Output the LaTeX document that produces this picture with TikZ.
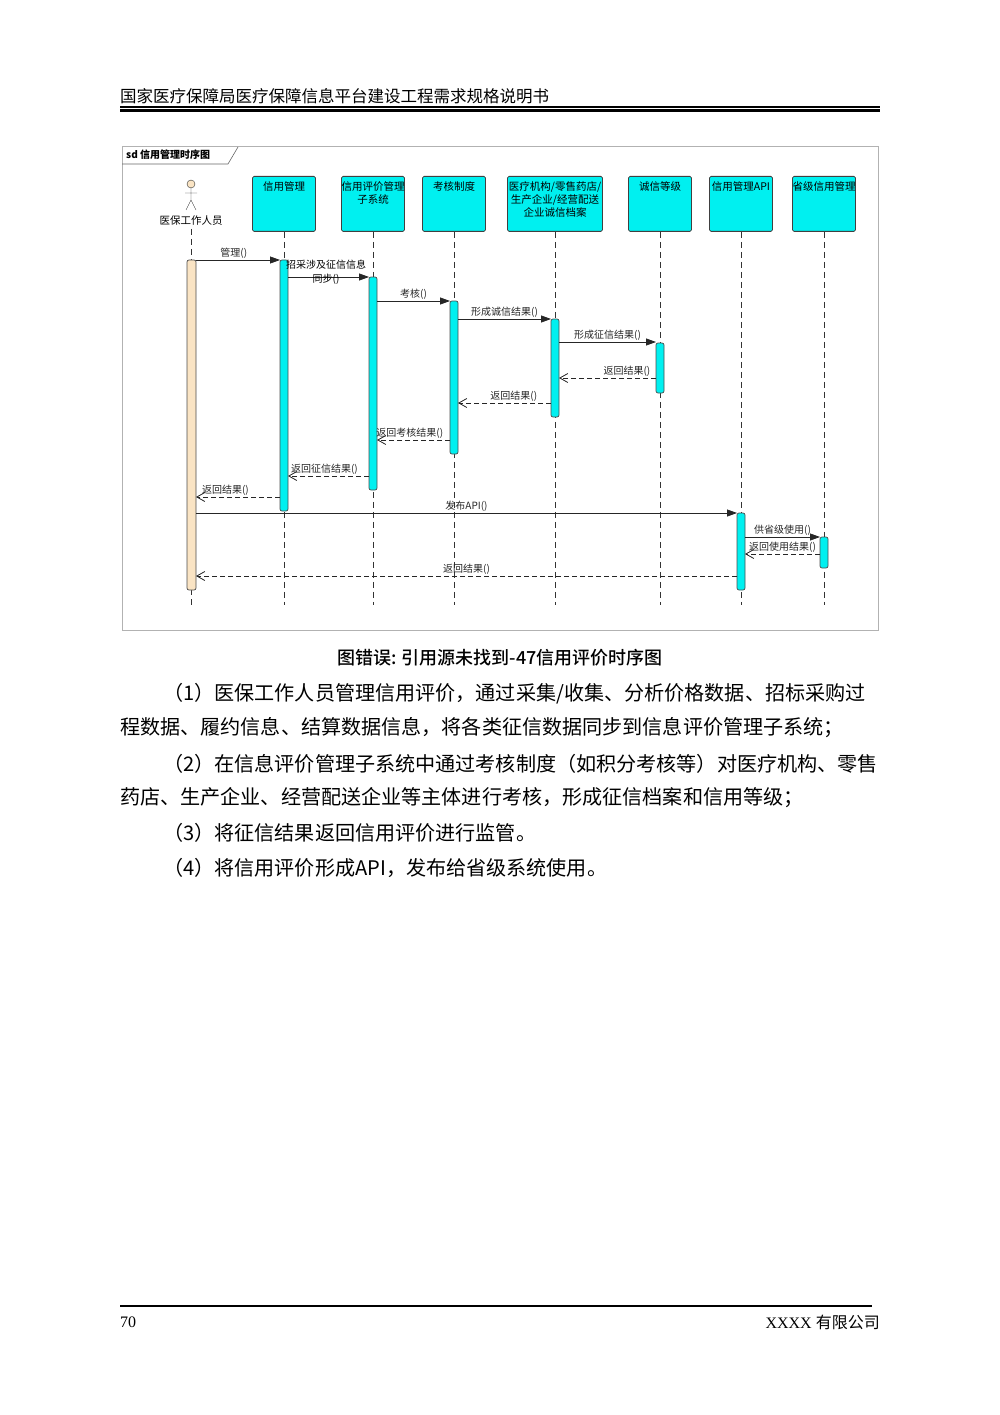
\documentclass[tikz,border=0pt]{standalone}
\usepackage{fontspec}
\setmainfont{Liberation Serif}
\newfontfamily\cjk{Noto Sans CJK SC}
\newfontfamily\cjkm{Noto Sans CJK SC Medium}
\usetikzlibrary{arrows.meta,calc}
\definecolor{aqua}{RGB}{0,240,240}
\definecolor{skin}{RGB}{250,228,196}
\tikzset{
 obj/.style={draw=black!75,fill=aqua,minimum width=63pt,minimum height=55pt,rounded corners=1.5pt,anchor=north,inner sep=0pt,line width=0.8pt},
 objt/.style={anchor=north,align=center,font=\cjk\fontsize{10.5}{13}\selectfont,inner sep=0pt},
 life/.style={dash pattern=on 6pt off 4pt,black!80,line width=0.8pt},
 act/.style={draw=black!70,fill=aqua,rounded corners=2pt,line width=0.7pt},
 msg/.style={-{Triangle[length=10pt,width=7pt]},black!85,line width=0.8pt},
 ret/.style={-{Straight Barb[length=8pt,width=9pt]},dash pattern=on 5pt off 3pt,black!85,line width=0.8pt},
 lbl/.style={font=\cjk\fontsize{10}{11}\selectfont,inner sep=1.5pt},
 para/.style={anchor=west,font=\cjk\fontsize{20.1}{22}\selectfont,inner sep=0pt}
}
\begin{document}
\begin{tikzpicture}[x=1pt,y=-1pt]
\useasboundingbox (0,0) rectangle (1000,1415);
% header
\node[anchor=west,font=\cjk\fontsize{16.5}{18}\selectfont,inner sep=0] (hdr) at (120,96) {国家医疗保障局医疗保障信息平台建设工程需求规格说明书};
\draw[line width=1.2pt] (120,107) -- (880,107);
\draw[line width=2.6pt] (120,110.5) -- (880,110.5);
% frame
\draw[black!30,line width=0.8pt] (122,146) rectangle (878,630);
\draw[black!60,line width=0.6pt] (122,164) -- (228,164) -- (238,147);
\node[anchor=west,font=\cjk\bfseries\fontsize{10}{11}\selectfont,inner sep=0] (frm) at (126,155) {sd 信用管理时序图};
% objects
\foreach \n/\x/\w/\t in {o1/284/63/{信用管理},o2/373/63/{信用评价管理\\子系统},o3/454/63/{考核制度},o4/555/95/{医疗机构/零售药店/\\生产企业/经营配送\\企业诚信档案},o5/660/63/{诚信等级},o6/741/63/{信用管理API},o7/824/63/{省级信用管理}}{
  \node[obj,minimum width=\w pt] (\n) at (\x,176) {};
  \node[objt] at (\x,181) {\t};
}
% actor
\draw[black!80,fill=skin] (191,184) circle (4pt);
\draw[black!80] (191,188) -- (191,200) (185,193) -- (197,193) (191,200) -- (186,210) (191,200) -- (196,210);
\node[lbl,font=\cjk\fontsize{10.5}{12}\selectfont] (o0) at (191,221) {医保工作人员};
% lifelines
\draw[life] (191,229) -- (191,607);
\foreach \n/\x in {o1/284,o2/373,o3/454,o4/555,o5/660,o6/741,o7/824} \draw[life] (\n.south) -- (\x,605);
% activations
\draw[act,fill=skin] (187,260) rectangle (196,590);
\draw[act] (280,260) rectangle (288,511);
\draw[act] (369,277) rectangle (377,490);
\draw[act] (450,301) rectangle (458,454);
\draw[act] (551,319) rectangle (559,417);
\draw[act] (656,343) rectangle (664,393);
\draw[act] (737,513) rectangle (745,590);
\draw[act] (820,537) rectangle (828,568);
% messages
\draw[msg] (196,260) -- node[lbl,above,pos=0.45]{管理()} (280,260);
\draw[msg] (288,277) -- (369,277);
\node[lbl,align=center,font=\cjk\fontsize{10}{14}\selectfont,inner sep=0.5pt] at (326,272) {招采涉及征信信息\\同步()};
\draw[msg] (377,301) -- node[lbl,above]{考核()} (450,301);
\draw[msg] (458,319) -- node[lbl,above]{形成诚信结果()} (551,319);
\draw[msg] (559,342) -- node[lbl,above]{形成征信结果()} (656,342);
\draw[ret] (656,378) -- node[lbl,above,pos=0.3]{返回结果()} (559,378);
\draw[ret] (551,403) -- node[lbl,above,pos=0.4]{返回结果()} (458,403);
\draw[ret] (450,440) -- node[lbl,above,pos=0.55]{返回考核结果()} (377,440);
\draw[ret] (369,476) -- node[lbl,above,pos=0.55]{返回征信结果()} (288,476);
\draw[ret] (280,497) -- node[lbl,above,pos=0.65]{返回结果()} (196,497);
\draw[msg] (196,513) -- node[lbl,above]{发布API()} (737,513);
\draw[msg] (745,537) -- node[lbl,above]{供省级使用()} (820,537);
\draw[ret] (820,554) -- node[lbl,above]{返回使用结果()} (745,554);
\draw[ret] (737,576) -- node[lbl,above]{返回结果()} (196,576);
% caption
\node[font=\cjkm\fontsize{18}{20}\selectfont,inner sep=0] (cap) at (500,658) {图错误: 引用源未找到-47信用评价时序图};
% paragraphs
\node[para] (p1) at (163,694) {（1）医保工作人员管理信用评价，通过采集/收集、分析价格数据、招标采购过};
\node[para] (p2) at (120,728) {程数据、履约信息、结算数据信息，将各类征信数据同步到信息评价管理子系统；};
\node[para] (p3) at (163,764) {（2）在信息评价管理子系统中通过考核制度（如积分考核等）对医疗机构、零售};
\node[para] (p4) at (120,798) {药店、生产企业、经营配送企业等主体进行考核，形成征信档案和信用等级；};
\node[para] (p5) at (163,833) {（3）将征信结果返回信用评价进行监管。};
\node[para] (p6) at (163,868) {（4）将信用评价形成API，发布给省级系统使用。};
% footer
\draw[line width=2.6pt] (120,1306) -- (872,1306);
\node[anchor=west,font=\fontsize{16}{18}\selectfont,inner sep=0] (pg) at (120,1322) {70};
\node[anchor=east,font=\fontsize{16}{18}\selectfont,inner sep=0] (co) at (880,1322) {XXXX {\cjk 有限公司}};
\end{tikzpicture}
\end{document}
